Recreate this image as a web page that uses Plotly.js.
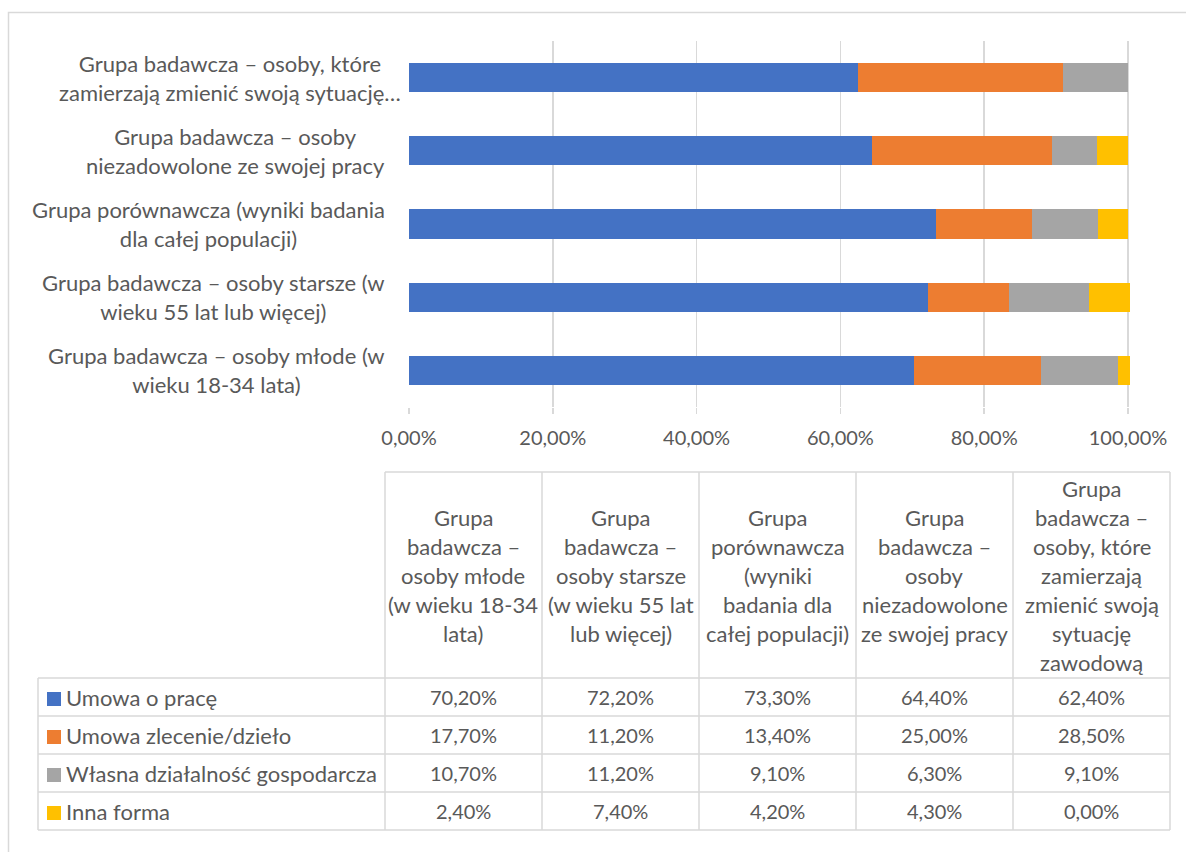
<!DOCTYPE html>
<html>
<head>
<meta charset="utf-8">
<script src="https://cdn.plot.ly/plotly-3.0.1.min.js"></script>
<style>html,body{margin:0;padding:0;background:#fff;}#chart{width:1186px;height:852px;}</style>
</head>
<body>
<div id="chart"></div>
<script>
// ---- data ----
const categories = [
  "Grupa badawcza – osoby młode (w wieku 18-34 lata)",
  "Grupa badawcza – osoby starsze (w wieku 55 lat lub więcej)",
  "Grupa porównawcza (wyniki badania dla całej populacji)",
  "Grupa badawcza – osoby niezadowolone ze swojej pracy",
  "Grupa badawcza – osoby, które zamierzają zmienić swoją sytuację zawodową"
];
const axisLabelLines = [
  ["Grupa badawcza – osoby młode (w", "wieku 18-34 lata)"],
  ["Grupa badawcza – osoby starsze (w", "wieku 55 lat lub więcej)"],
  ["Grupa porównawcza (wyniki badania", "dla całej populacji)"],
  ["Grupa badawcza – osoby", "niezadowolone ze swojej pracy"],
  ["Grupa badawcza – osoby, które", "zamierzają zmienić swoją sytuację…"]
];
const headerLines = [
  ["Grupa", "badawcza –", "osoby młode", "(w wieku 18-34", "lata)"],
  ["Grupa", "badawcza –", "osoby starsze", "(w wieku 55 lat", "lub więcej)"],
  ["Grupa", "porównawcza", "(wyniki", "badania dla", "całej populacji)"],
  ["Grupa", "badawcza –", "osoby", "niezadowolone", "ze swojej pracy"],
  ["Grupa", "badawcza –", "osoby, które", "zamierzają", "zmienić swoją", "sytuację", "zawodową"]
];
const seriesNames = ["Umowa o pracę", "Umowa zlecenie/dzieło", "Własna działalność gospodarcza", "Inna forma"];
const umowaOPrace      = [70.2, 72.2, 73.3, 64.4, 62.4];
const umowaZlecenie    = [17.7, 11.2, 13.4, 25.0, 28.5];
const wlasnaDzialalnosc= [10.7, 11.2,  9.1,  6.3,  9.1];
const innaForma        = [ 2.4,  7.4,  4.2,  4.3,  0.0];
const xTickVals = [0, 20, 40, 60, 80, 100];

// ---- style ----
const seriesValues = [umowaOPrace, umowaZlecenie, wlasnaDzialalnosc, innaForma];
const colors = ["#4472C4", "#ED7D31", "#A5A5A5", "#FFC000"];
const FONT = 'Lato, "Open Sans", sans-serif';
const TXT = "#595959";
const LINE = "#D9D9D9";
const FS = 22;      // text
const FN = 20;      // numbers
const LH = 29;
const W = 1186, H = 852;
const px = x => x / W;
const py = y => 1 - y / H;
const fmt = v => v.toFixed(2).replace(".", ",") + "%";

const traces = seriesValues.map((vals, i) => ({
  type: "bar", orientation: "h",
  name: seriesNames[i],
  y: categories, x: vals,
  marker: {color: colors[i], line: {width: 0}},
  hoverinfo: "x+name"
}));

const annotations = [];
const shapes = [];

// category labels beside the axis (centered multi-line block, right-aligned to axis;
// a truncated label's ellipsis overflows past the label area, as in the original)
categories.forEach((c, i) => {
  const lines = axisLabelLines[i];
  const truncated = lines[lines.length - 1].endsWith("…");
  annotations.push({
    xref: "paper", yref: "y", x: px(387), y: c,
    xanchor: "right", yanchor: "middle", xshift: truncated ? 16 : 0,
    text: lines.join("<br>"), showarrow: false, align: "center",
    font: {family: FONT, size: FS, color: TXT}
  });
});

// ---- data table ----
const colEdges = [385, 542, 699, 856, 1013, 1170];
const tableLeft = 38;
const headerTop = 472;
const rowEdges = [678, 716, 754, 792, 830];
const lineStyle = {color: LINE, width: 1.5};
shapes.push({type: "line", xref: "paper", yref: "paper", x0: px(colEdges[0]), x1: px(colEdges[5]), y0: py(headerTop), y1: py(headerTop), line: lineStyle});
rowEdges.forEach(r => shapes.push({type: "line", xref: "paper", yref: "paper", x0: px(tableLeft), x1: px(colEdges[5]), y0: py(r), y1: py(r), line: lineStyle}));
shapes.push({type: "line", xref: "paper", yref: "paper", x0: px(tableLeft), x1: px(tableLeft), y0: py(rowEdges[0]), y1: py(rowEdges[4]), line: lineStyle});
colEdges.forEach(cx => shapes.push({type: "line", xref: "paper", yref: "paper", x0: px(cx), x1: px(cx), y0: py(headerTop), y1: py(rowEdges[4]), line: lineStyle}));

// header cells
const headerCenter = (headerTop + rowEdges[0]) / 2;
headerLines.forEach((lines, k) => {
  const cx = (colEdges[k] + colEdges[k + 1]) / 2;
  const n = lines.length;
  lines.forEach((t, j) => {
    annotations.push({
      xref: "paper", yref: "paper", x: px(cx), y: py(headerCenter + (j - (n - 1) / 2) * LH),
      xanchor: "center", yanchor: "middle", text: t, showarrow: false,
      font: {family: FONT, size: FS, color: TXT}
    });
  });
});

// data rows with legend keys
seriesValues.forEach((vals, s) => {
  const cy = (rowEdges[s] + rowEdges[s + 1]) / 2;
  shapes.push({type: "rect", xref: "paper", yref: "paper", x0: px(47), x1: px(61), y0: py(cy - 5), y1: py(cy + 9), fillcolor: colors[s], line: {width: 0}});
  annotations.push({
    xref: "paper", yref: "paper", x: px(64), y: py(cy), xanchor: "left", yanchor: "middle",
    text: seriesNames[s], showarrow: false, font: {family: FONT, size: FS, color: TXT}
  });
  vals.forEach((v, k) => {
    const cx = (colEdges[k] + colEdges[k + 1]) / 2;
    annotations.push({
      xref: "paper", yref: "paper", x: px(cx), y: py(cy), xanchor: "center", yanchor: "middle",
      text: fmt(v), showarrow: false, font: {family: FONT, size: FN, color: TXT}
    });
  });
});

// outer chart border
shapes.push({type: "rect", xref: "paper", yref: "paper", x0: px(8.5), x1: px(1195), y0: py(12.5), y1: py(870), line: {color: LINE, width: 1.5}, fillcolor: "rgba(0,0,0,0)"});

const layout = {
  width: W, height: H,
  margin: {l: 0, r: 0, t: 0, b: 0},
  paper_bgcolor: "#ffffff", plot_bgcolor: "#ffffff",
  separators: ",.",
  barmode: "stack", bargap: 0.6,
  showlegend: false,
  font: {family: FONT, size: FS, color: TXT},
  xaxis: {
    domain: [px(409), px(1130)],
    range: [0, 100.28],
    tickmode: "array",
    tickvals: xTickVals,
    ticktext: xTickVals.map(fmt),
    showgrid: true, gridcolor: LINE, gridwidth: 1.5,
    zeroline: false, showline: false,
    ticks: "outside", ticklen: 6, tickcolor: LINE, tickwidth: 1.5,
    ticklabelstandoff: 7,
    tickfont: {family: FONT, size: FN, color: TXT},
    fixedrange: true
  },
  yaxis: {
    domain: [py(407), py(41)],
    type: "category",
    categoryorder: "array", categoryarray: categories,
    range: [-0.5, 4.5],
    showticklabels: false, showgrid: false, zeroline: false, showline: false,
    fixedrange: true
  },
  shapes: shapes,
  annotations: annotations
};

Plotly.newPlot("chart", traces, layout, {displayModeBar: false, staticPlot: true});
</script>
</body>
</html>
